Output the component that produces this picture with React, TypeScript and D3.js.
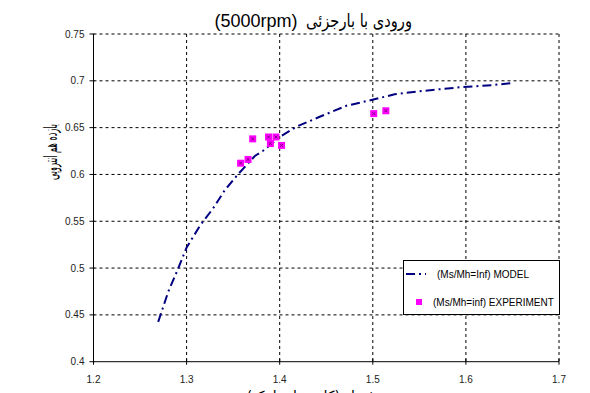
import React from "react";
import * as d3 from "d3";

const xTicks = [1.2, 1.3, 1.4, 1.5, 1.6, 1.7];
const yTicks = [0.4, 0.45, 0.5, 0.55, 0.6, 0.65, 0.7, 0.75];

const modelX = [1.2695, 1.2803, 1.291, 1.3, 1.3143, 1.3285, 1.3411, 1.3554, 1.3644, 1.3733, 1.3822, 1.4001, 1.418, 1.443, 1.4717, 1.4985, 1.5235, 1.5557, 1.5932, 1.629, 1.649];
const modelY = [0.4426, 0.4747, 0.4997, 0.5219, 0.5452, 0.5638, 0.5833, 0.6004, 0.61, 0.6197, 0.6253, 0.64, 0.651, 0.6616, 0.6734, 0.6795, 0.6856, 0.6894, 0.6931, 0.6955, 0.6976];

const expX = [1.358, 1.366, 1.371, 1.388, 1.39, 1.396, 1.402, 1.501, 1.514];
const expY = [0.612, 0.616, 0.638, 0.64, 0.633, 0.64, 0.631, 0.665, 0.668];

const titleLatin = "(5000rpm)";
const titlePersian = "ورودی با بارجزئی";
const yTitle = "بازده هم انتروپی";
const xTitle = "نسبت فشار (کل به استاتیک)";
const legendModel = "(Ms/Mh=Inf) MODEL";
const legendExp = "(Ms/Mh=inf) EXPERIMENT";

const W = 590, H = 393;
const L = 93.5, R = 559, T = 34, B = 361.7;

export default function App() {
  const x = d3.scaleLinear().domain([1.2, 1.7]).range([L, R]);
  const y = d3.scaleLinear().domain([0.4, 0.75]).range([B, T]);
  const modelPts = modelX.map((v, i) => [v, modelY[i]] as [number, number]);
  const line = d3.line<[number, number]>().x(d => x(d[0])).y(d => y(d[1]));
  const font = "'Liberation Sans', Arial, sans-serif";
  const sq = 7;
  return (
    <svg width={W} height={H} style={{ position: "absolute", left: 0, top: 0, background: "#fff" }} fontFamily={font}>
      <rect x={0} y={0} width={W} height={H} fill="#fff" />
      {/* grid */}
      {xTicks.slice(1).map(t => (
        <line key={"gx" + t} x1={x(t)} x2={x(t)} y1={T} y2={B} stroke="#000" strokeWidth={1} strokeDasharray="3,3" />
      ))}
      {yTicks.slice(1).map(t => (
        <line key={"gy" + t} x1={L} x2={R} y1={y(t)} y2={y(t)} stroke="#000" strokeWidth={1} strokeDasharray="3,3" />
      ))}
      {/* axes */}
      <line x1={L} x2={L} y1={T} y2={B} stroke="#000" strokeWidth={1} />
      <line x1={L} x2={R} y1={B} y2={B} stroke="#000" strokeWidth={1} />
      {yTicks.map(t => (
        <g key={"ty" + t}>
          <line x1={L - 4} x2={L + 1} y1={y(t)} y2={y(t)} stroke="#000" />
          <text x={L - 9} y={y(t) + 3.5} fontSize={10} textAnchor="end" fill="#222">{t}</text>
        </g>
      ))}
      {xTicks.map(t => (
        <g key={"tx" + t}>
          <line x1={x(t)} x2={x(t)} y1={B - 3} y2={B + 3} stroke="#000" />
          <text x={x(t)} y={B + 21} fontSize={10} textAnchor="middle" fill="#222">{t}</text>
        </g>
      ))}
      {/* model */}
      <path d={line(modelPts) || ""} fill="none" stroke="#000080" strokeWidth={2} strokeDasharray="9,4,2,4" />
      {/* experiment */}
      {expX.map((v, i) => (
        <g key={"e" + i}>
          <rect x={x(v) - sq / 2} y={y(expY[i]) - sq / 2} width={sq} height={sq} fill="#ff00ff" />
          <path d={`M${x(v) - 1.5},${y(expY[i]) - 1.5}L${x(v) + 1.5},${y(expY[i]) + 1.5}M${x(v) + 1.5},${y(expY[i]) - 1.5}L${x(v) - 1.5},${y(expY[i]) + 1.5}`} stroke="#660066" strokeWidth={0.8} />
        </g>
      ))}
      {/* legend */}
      <rect x={403.5} y={260.5} width={156} height={54} fill="#fff" stroke="#000" strokeWidth={1} />
      <line x1={406} x2={426} y1={274} y2={274} stroke="#000080" strokeWidth={2} strokeDasharray="9,4,2,4" />
      <text x={437} y={278} fontSize={10} fill="#000">{legendModel}</text>
      <rect x={416} y={299} width={6} height={6} fill="#ff00ff" />
      <text x={433} y={306} fontSize={10} fill="#000">{legendExp}</text>
      {/* titles */}
      <text x={256} y={27} fontSize={18} textAnchor="middle" fill="#000" fontFamily="'Liberation Sans', Arial, sans-serif">{titleLatin}</text>
      <text x={412} y={27} fontSize={18} textAnchor="end" fill="#000" fontFamily="'DejaVu Sans', sans-serif" textLength={106} lengthAdjust="spacingAndGlyphs">{titlePersian}</text>
      <text transform={`translate(57,152) rotate(-90)`} fontSize={18} textAnchor="middle" fill="#000" fontFamily="'DejaVu Sans', sans-serif" textLength={56} lengthAdjust="spacingAndGlyphs">{yTitle}</text>
      <text x={330} y={401} fontSize={14} textAnchor="middle" fill="#000" fontFamily="'DejaVu Sans', sans-serif">{xTitle}</text>
    </svg>
  );
}
